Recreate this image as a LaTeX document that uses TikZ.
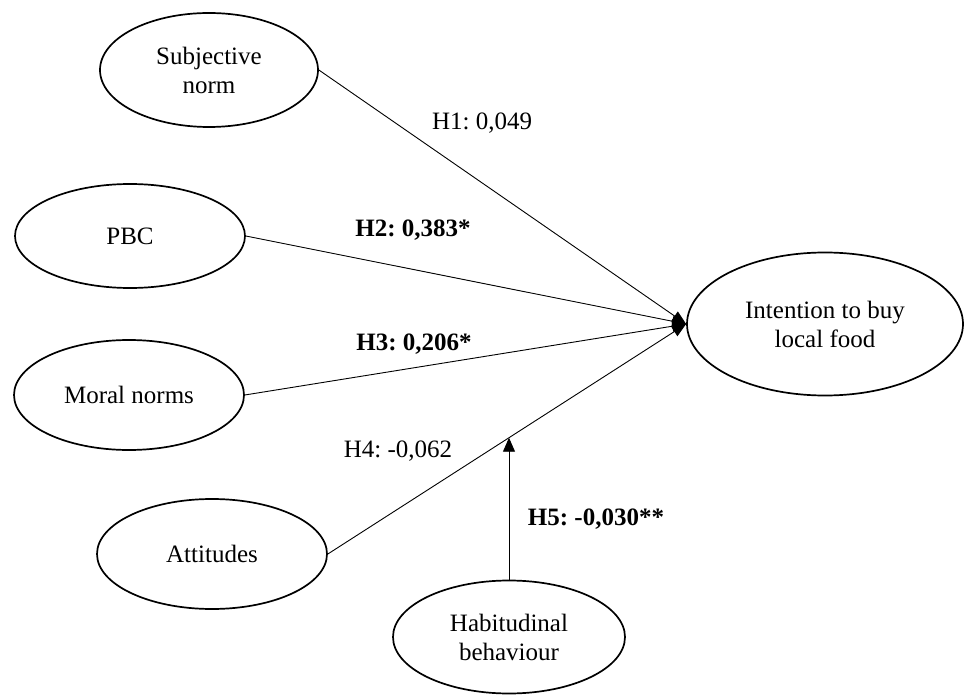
\documentclass[tikz,border=0pt]{standalone}
\usepackage{fontspec}
\setmainfont{Liberation Serif}
\usetikzlibrary{shapes.geometric,arrows.meta,intersections}
\frenchspacing
\begin{document}
\begin{tikzpicture}[x=1pt,y=-1pt,
  construct/.style={ellipse,draw,line width=1.7pt,inner sep=0pt,align=center,
    font=\fontsize{25}{29}\selectfont},
  conn/.style={line width=0.9pt,-{Triangle[length=14pt,width=11pt]}},
  lbl/.style={font=\fontsize{25}{29}\selectfont,inner sep=0pt},
  blbl/.style={font=\fontsize{25}{29}\selectfont\bfseries,inner sep=0pt}]
\useasboundingbox (0,0) rectangle (964,695);
\node[construct,minimum width=218pt,minimum height=114pt] (sn) at (209,70) {Subjective\\norm};
\node[construct,minimum width=230pt,minimum height=104pt] (pbc) at (130,236) {PBC};
\node[construct,minimum width=230pt,minimum height=110pt] (mn) at (129,395) {Moral norms};
\node[construct,minimum width=230pt,minimum height=110pt] (att) at (212,554) {Attitudes};
\node[construct,minimum width=232pt,minimum height=113pt] (hb) at (509,637) {Habitudinal\\behaviour};
\node[construct,minimum width=276pt,minimum height=143pt] (int) at (825,324) {Intention to buy\\local food};
\coordinate (tip) at (int.west);
\draw[conn] (sn.east) -- (tip);
\draw[conn] (pbc.east) -- (tip);
\draw[conn] (mn.east) -- (tip);
\draw[conn,name path=attline] (att.east) -- (tip);
\path[name path=vert] (hb.north) -- ++(0,-300);
\draw[line width=0.9pt,-{Triangle[length=14pt,width=12pt]},name intersections={of=vert and attline}] (hb.north) -- (intersection-1);
\node[lbl] (l1) at (482,123) {H1: 0,049};
\node[blbl] (l2) at (413,230) {H2: 0,383*};
\node[blbl] (l3) at (414,344) {H3: 0,206*};
\node[lbl] (l4) at (398,451) {H4: -0,062};
\node[blbl] (l5) at (596,519) {H5: -0,030**};
\end{tikzpicture}
\end{document}
